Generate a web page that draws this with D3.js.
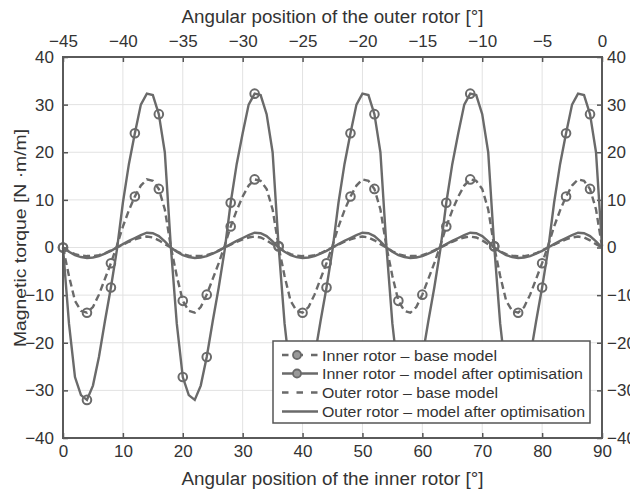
<!DOCTYPE html>
<html>
<head>
<meta charset="utf-8">
<script src="https://cdn.jsdelivr.net/npm/d3@7"></script>
<style>
  body { margin: 0; background: #fff; }
  svg { display: block; font-family: "Liberation Sans", Arial, sans-serif; }
</style>
</head>
<body>
<div id="chart"></div>
<script>
// torque values sampled every 1 degree of the inner rotor (0..90)
const innerBase = [
  0, -6, -11.2, -13.3, -13.7, -12.5, -9.9, -6.6, -3.3, 0.4, 4.4, 7.8, 10.7, 13, 14.3, 14, 12.3, 8,
  0.2, -6, -11.2, -13.3, -13.7, -12.5, -9.9, -6.6, -3.3, 0.4, 4.4, 7.8, 10.7, 13, 14.3, 14, 12.3, 8,
  0.2, -6, -11.2, -13.3, -13.7, -12.5, -9.9, -6.6, -3.3, 0.4, 4.4, 7.8, 10.7, 13, 14.3, 14, 12.3, 8,
  0.2, -6, -11.2, -13.3, -13.7, -12.5, -9.9, -6.6, -3.3, 0.4, 4.4, 7.8, 10.7, 13, 14.3, 14, 12.3, 8,
  0.2, -6, -11.2, -13.3, -13.7, -12.5, -9.9, -6.6, -3.3, 0.4, 4.4, 7.8, 10.7, 13, 14.3, 14, 12.3, 8,
  0.2
];
const innerOpt = [
  0, -16, -27.2, -31, -32, -29, -23, -15.5, -8.4, -0.5, 9.4, 17.5, 24, 30, 32.3, 32, 28, 20,
  0.3, -16, -27.2, -31, -32, -29, -23, -15.5, -8.4, -0.5, 9.4, 17.5, 24, 30, 32.3, 32, 28, 20,
  0.3, -16, -27.2, -31, -32, -29, -23, -15.5, -8.4, -0.5, 9.4, 17.5, 24, 30, 32.3, 32, 28, 20,
  0.3, -16, -27.2, -31, -32, -29, -23, -15.5, -8.4, -0.5, 9.4, 17.5, 24, 30, 32.3, 32, 28, 20,
  0.3, -16, -27.2, -31, -32, -29, -23, -15.5, -8.4, -0.5, 9.4, 17.5, 24, 30, 32.3, 32, 28, 20,
  0.3
];
const outerBase = [
  0, -0.8, -1.4, -1.7, -1.8, -1.8, -1.6, -1.2, -0.6, 0, 0.6, 1.2, 1.7, 2.1, 2.3, 2.1, 1.5, 0.7,
  0, -0.8, -1.4, -1.7, -1.8, -1.8, -1.6, -1.2, -0.6, 0, 0.6, 1.2, 1.7, 2.1, 2.3, 2.1, 1.5, 0.7,
  0, -0.8, -1.4, -1.7, -1.8, -1.8, -1.6, -1.2, -0.6, 0, 0.6, 1.2, 1.7, 2.1, 2.3, 2.1, 1.5, 0.7,
  0, -0.8, -1.4, -1.7, -1.8, -1.8, -1.6, -1.2, -0.6, 0, 0.6, 1.2, 1.7, 2.1, 2.3, 2.1, 1.5, 0.7,
  0, -0.8, -1.4, -1.7, -1.8, -1.8, -1.6, -1.2, -0.6, 0, 0.6, 1.2, 1.7, 2.1, 2.3, 2.1, 1.5, 0.7,
  0
];
const outerOpt = [
  0, -0.9, -1.6, -2.0, -2.2, -2.1, -1.8, -1.3, -0.7, 0, 0.7, 1.4, 2.0, 2.6, 3.1, 3.0, 2.4, 1.3,
  0, -0.9, -1.6, -2.0, -2.2, -2.1, -1.8, -1.3, -0.7, 0, 0.7, 1.4, 2.0, 2.6, 3.1, 3.0, 2.4, 1.3,
  0, -0.9, -1.6, -2.0, -2.2, -2.1, -1.8, -1.3, -0.7, 0, 0.7, 1.4, 2.0, 2.6, 3.1, 3.0, 2.4, 1.3,
  0, -0.9, -1.6, -2.0, -2.2, -2.1, -1.8, -1.3, -0.7, 0, 0.7, 1.4, 2.0, 2.6, 3.1, 3.0, 2.4, 1.3,
  0, -0.9, -1.6, -2.0, -2.2, -2.1, -1.8, -1.3, -0.7, 0, 0.7, 1.4, 2.0, 2.6, 3.1, 3.0, 2.4, 1.3,
  0
];
const angles = d3.range(0, 91);
const markerStep = 4;

const innerTicks = [0, 10, 20, 30, 40, 50, 60, 70, 80, 90];
const outerTicks = [-45, -40, -35, -30, -25, -20, -15, -10, -5, 0];
const yTicks = [-40, -30, -20, -10, 0, 10, 20, 30, 40];

const legendLabels = [
  "Inner rotor \u2013 base model",
  "Inner rotor \u2013 model after optimisation",
  "Outer rotor \u2013 base model",
  "Outer rotor \u2013 model after optimisation"
];

const width = 630, height = 491;
const plotLeft = 63, plotRight = 602, plotTop = 57, plotBottom = 438;
const lineColor = "#6a6a6a", textColor = "#333";

const svg = d3.select("#chart").append("svg")
    .attr("width", width)
    .attr("height", height);

const x = d3.scaleLinear().domain([0, 90]).range([plotLeft, plotRight]);
const xTop = d3.scaleLinear().domain([-45, 0]).range([plotLeft, plotRight]);
const y = d3.scaleLinear().domain([-40, 40]).range([plotBottom, plotTop]);

// grid
svg.append("g").selectAll("line")
    .data(innerTicks.slice(1, -1))
    .enter().append("line")
    .attr("x1", d => x(d)).attr("x2", d => x(d))
    .attr("y1", plotTop).attr("y2", plotBottom)
    .style("stroke", "#e2e2e2");
svg.append("g").selectAll("line")
    .data(yTicks.slice(1, -1))
    .enter().append("line")
    .attr("x1", plotLeft).attr("x2", plotRight)
    .attr("y1", d => y(d)).attr("y2", d => y(d))
    .style("stroke", "#e2e2e2");

// axes (ticks pointing inward)
function styleAxis(g) {
    g.select(".domain").remove();
    g.selectAll(".tick line").style("stroke", "#555").style("stroke-width", 1.5);
    g.selectAll("text").style("font-size", "17px").style("fill", textColor)
        .style("font-family", "'Liberation Sans', Arial, sans-serif");
}
svg.append("g").attr("transform", `translate(0,${plotBottom})`)
    .call(d3.axisBottom(x).tickValues(innerTicks).tickSizeInner(-5).tickSizeOuter(0).tickPadding(7))
    .call(styleAxis);
svg.append("g").attr("transform", `translate(0,${plotTop})`)
    .call(d3.axisTop(xTop).tickValues(outerTicks).tickSizeInner(-5).tickSizeOuter(0).tickPadding(10))
    .call(styleAxis);
svg.append("g").attr("transform", `translate(${plotLeft},0)`)
    .call(d3.axisLeft(y).tickValues(yTicks).tickSizeInner(-5).tickSizeOuter(0).tickPadding(9))
    .call(styleAxis);
svg.append("g").attr("transform", `translate(${plotRight},0)`)
    .call(d3.axisRight(y).tickValues(yTicks).tickSizeInner(-5).tickSizeOuter(0).tickPadding(5))
    .call(styleAxis);

// curves
const line = d3.line()
    .x((d, i) => x(angles[i]))
    .y(d => y(d));

const series = [
    {values: outerBase, dash: "7,4", markers: false},
    {values: outerOpt, dash: null, markers: false},
    {values: innerBase, dash: "7,4", markers: true},
    {values: innerOpt, dash: null, markers: true}
];

series.forEach(s => {
    svg.append("path")
        .datum(s.values)
        .attr("d", line)
        .style("fill", "none")
        .style("stroke", lineColor)
        .style("stroke-width", 2.4)
        .style("stroke-dasharray", s.dash);
});

series.filter(s => s.markers).forEach(s => {
    svg.append("g").selectAll("circle")
        .data(angles.filter(a => a % markerStep === 0 && a < 90))
        .enter().append("circle")
        .attr("cx", a => x(a))
        .attr("cy", a => y(s.values[a]))
        .attr("r", 4.3)
        .style("fill", "none")
        .style("stroke", lineColor)
        .style("stroke-width", 2);
});

// frame
svg.append("rect")
    .attr("x", plotLeft).attr("y", plotTop)
    .attr("width", plotRight - plotLeft).attr("height", plotBottom - plotTop)
    .style("fill", "none")
    .style("stroke", "#5a5a5a")
    .style("stroke-width", 2);

// titles
svg.append("text")
    .attr("x", (plotLeft + plotRight) / 2).attr("y", 22.5)
    .attr("text-anchor", "middle")
    .attr("textLength", 302).attr("lengthAdjust", "spacingAndGlyphs")
    .style("font-size", "18px").style("fill", textColor)
    .text("Angular position of the outer rotor [\u00b0]");
svg.append("text")
    .attr("x", (plotLeft + plotRight) / 2).attr("y", 485)
    .attr("text-anchor", "middle")
    .attr("textLength", 302).attr("lengthAdjust", "spacingAndGlyphs")
    .style("font-size", "18px").style("fill", textColor)
    .text("Angular position of the inner rotor [\u00b0]");
svg.append("text")
    .attr("transform", "translate(25.5,238) rotate(-90)")
    .attr("text-anchor", "middle")
    .attr("textLength", 218).attr("lengthAdjust", "spacingAndGlyphs")
    .style("font-size", "17px").style("fill", textColor)
    .text("Magnetic torque [N \u00b7m/m]");

// legend
const legend = svg.append("g");
legend.append("rect")
    .attr("x", 273).attr("y", 341)
    .attr("width", 317).attr("height", 82)
    .style("fill", "#fff")
    .style("stroke", "#555")
    .style("stroke-width", 1.5);

const legendRows = [355, 373.5, 392.5, 411.5];
const legendWidths = [175, 261, 176, 263];
const legendSeries = [series[2], series[3], series[0], series[1]];

legendSeries.forEach((s, i) => {
    const ry = legendRows[i];
    legend.append("line")
        .attr("x1", 282).attr("x2", 318)
        .attr("y1", ry).attr("y2", ry)
        .style("stroke", lineColor)
        .style("stroke-width", 2.4)
        .style("stroke-dasharray", s.dash ? "6.5,8" : null);
    if (s.markers) {
        legend.append("circle")
            .attr("cx", 297).attr("cy", ry).attr("r", 4)
            .style("fill", "#999")
            .style("stroke", lineColor)
            .style("stroke-width", 1.8);
    }
    legend.append("text")
        .attr("x", 322).attr("y", ry + 5.5)
        .attr("textLength", legendWidths[i]).attr("lengthAdjust", "spacingAndGlyphs")
        .style("font-size", "15.5px").style("fill", textColor)
        .text(legendLabels[i]);
});
</script>
</body>
</html>
